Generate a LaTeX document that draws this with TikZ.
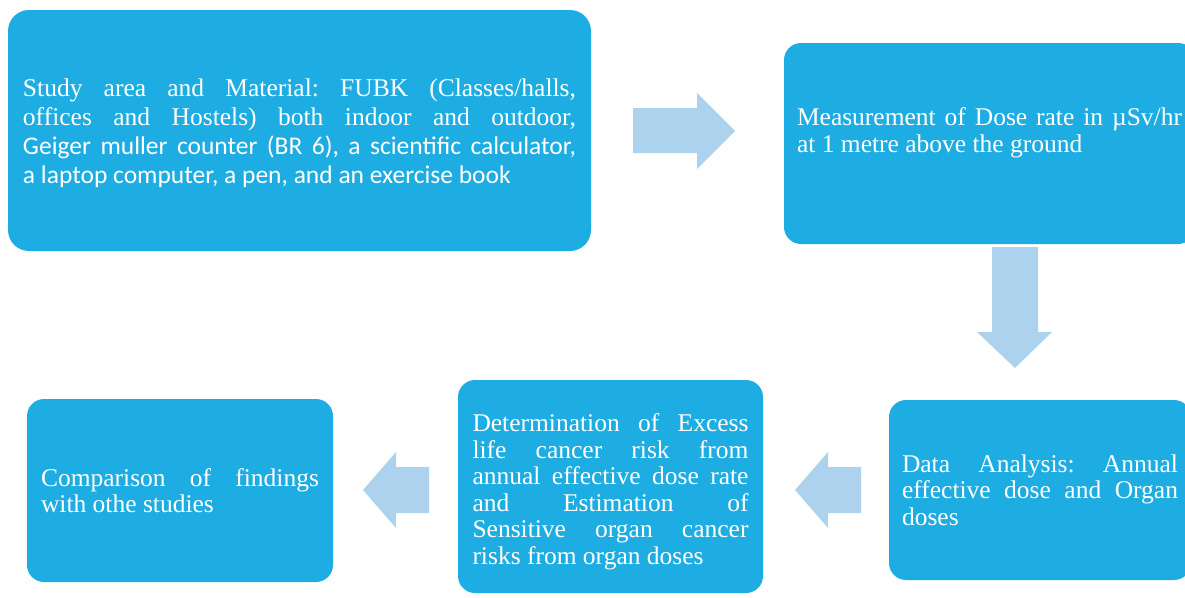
\documentclass[tikz,border=0pt]{standalone}
\usepackage{fontspec}
\setmainfont{Liberation Serif}
\newfontfamily\calibfont{Carlito}
\usepackage{xcolor}
\usepackage{tikz}
\frenchspacing

\definecolor{boxblue}{RGB}{30,173,226}
\definecolor{arrowblue}{RGB}{173,210,238}

\tikzset{
  stepbox/.style={fill=boxblue, text=white, rounded corners=17pt, inner sep=0pt,
    align=justify, font=\fontsize{25.5}{26.5}\selectfont},
  blockarrow/.style={fill=arrowblue}
}

\begin{document}
\begin{tikzpicture}[x=1pt,y=-1pt]
          \useasboundingbox (0,0) rectangle (1185,597);

          \node[stepbox, rounded corners=21pt, minimum width=583pt, minimum height=241pt, text width=553pt,
            font=\fontsize{25.5}{29}\selectfont] (study) at (299.5,130.5)
            {\rule{0pt}{24pt}Study area and Material: FUBK (Classes/halls,\linebreak offices and Hostels) both indoor and outdoor,\linebreak
             {\calibfont Geiger muller counter (BR 6), a scientific calculator,\linebreak a laptop computer, a pen, and an exercise book}};
          \node[stepbox, minimum width=411pt, minimum height=201pt, text width=385pt] (measure) at (989.5,143.5)
            {Measurement of Dose rate in µSv/hr\linebreak at 1 metre above the ground\par\mbox{}};
          \node[stepbox, minimum width=302pt, minimum height=180pt, text width=276pt] (data) at (1040,490)
            {Data Analysis: Annual\linebreak effective dose and Organ\linebreak doses};
          \node[stepbox, minimum width=305pt, minimum height=213pt, text width=276pt] (cancer) at (610.5,486.5)
            {\rule{0pt}{28pt}Determination of Excess\linebreak life cancer risk from\linebreak annual effective dose rate\linebreak
             and Estimation of\linebreak Sensitive organ cancer\linebreak risks from organ doses};
          \node[stepbox, minimum width=306pt, minimum height=183pt, text width=278pt] (compare) at (180,490.5)
            {Comparison of findings\linebreak with othe studies};

          % block arrows between the steps
          \fill[blockarrow] (633,108) -- (697,108) -- (697,93) -- (735,131) -- (697,169) -- (697,153) -- (633,153) -- cycle;
          \fill[blockarrow] (992,247) -- (1038,247) -- (1038,332) -- (1052,332) -- (1015,368) -- (977,332) -- (992,332) -- cycle;
          \foreach \dx in {0,-432}
            \fill[blockarrow, xshift=\dx] (861,467) -- (828,467) -- (828,452) -- (795,490) -- (828,528) -- (828,513) -- (861,513) -- cycle;
        \end{tikzpicture}
\end{document}
